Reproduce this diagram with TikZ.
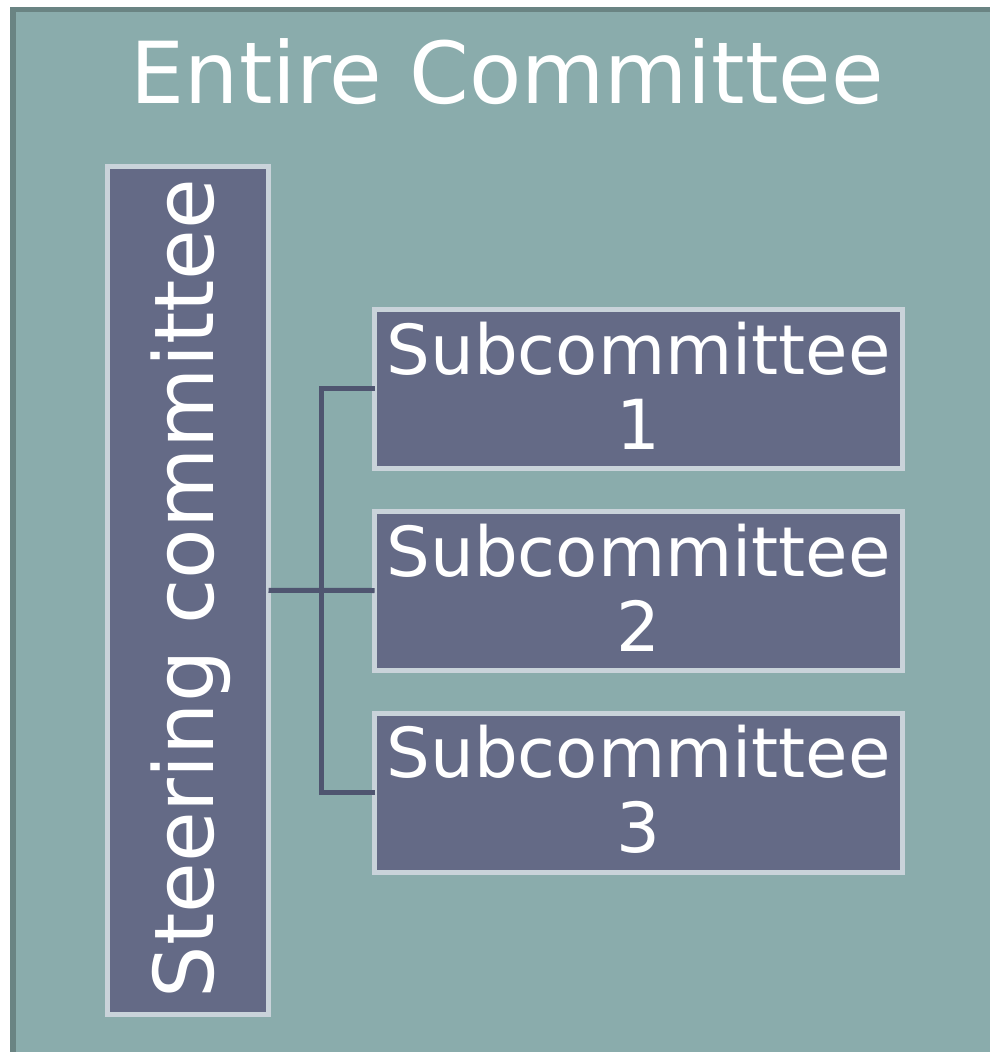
\documentclass[tikz,border=0pt]{standalone}
\usepackage{fontspec}
\setmainfont{DejaVu Sans}
\definecolor{outerfill}{HTML}{8AACAC}
\definecolor{outerline}{HTML}{6A8483}
\definecolor{boxfill}{HTML}{646A86}
\definecolor{boxline}{HTML}{C9D3DA}
\definecolor{connline}{HTML}{4F5570}
\tikzset{
  unitbox/.style={draw=boxline, fill=boxfill, line width=5pt, inner sep=0pt, outer sep=0pt, rectangle},
  subbox/.style={unitbox, minimum width=528pt, minimum height=159pt},
  conn/.style={draw=connline, line width=5pt, line join=miter},
  whitetxt/.style={text=white, inner sep=0pt, outer sep=0pt}
}
\begin{document}
\begin{tikzpicture}[x=1pt, y=-1pt]
\useasboundingbox (0,0) rectangle (990,1052);
\clip (0,0) rectangle (990,1052);
\draw[draw=outerline, fill=outerfill, line width=5.5pt] (13,9.5) rectangle (1010,1070);
\node[whitetxt, anchor=base, font=\fontsize{85.5}{100}\selectfont] (title) at (507.5,103) {Entire Committee};
\node[unitbox, minimum width=161pt, minimum height=848.5pt] (st) at (188,590.25) {};
\node[whitetxt, rotate=90, anchor=base, font=\fontsize{82.5}{97}\selectfont] (sttxt) at (213,588.5) {Steering committee};
\node[subbox] (s1) at (638.5,388.5) {};
\node[subbox] (s2) at (638.5,590.5) {};
\node[subbox] (s3) at (638.5,792.5) {};
\foreach \i in {1,2,3}{
  \node[whitetxt, align=center, font=\fontsize{69}{75}\selectfont] (t\i) at ([yshift=3pt]s\i.center) {Subcommittee\\\i};
}
\coordinate (bus) at (321.5,0);
\draw[conn] (st.east) -- (s2.west);
\draw[conn] (s1.west) -- (s1.west -| bus) -- (s3.west -| bus) -- (s3.west);
\end{tikzpicture}
\end{document}
